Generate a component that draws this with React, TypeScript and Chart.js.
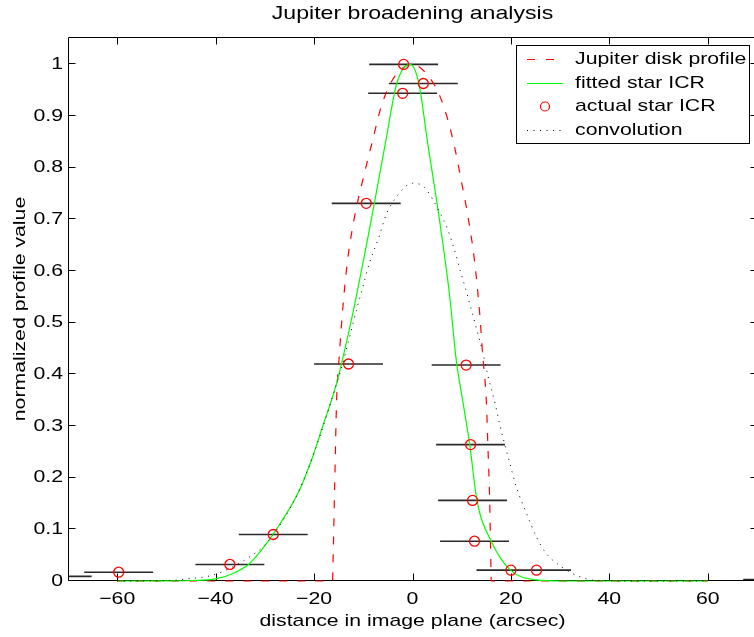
import React, { useEffect, useRef } from 'react';
import { Chart, registerables } from 'chart.js';

Chart.register(...registerables);

const FONT = '"Liberation Sans", Arial, Helvetica, sans-serif';
const SX = 1.25; // horizontal stretch of the text glyphs

const titleText = 'Jupiter broadening analysis';
const xTitle = 'distance in image plane (arcsec)';
const yTitle = 'normalized profile value';

const xTicks = [-60, -40, -20, 0, 20, 40, 60];
const xTickLabels = ['\u221260', '\u221240', '\u221220', '0', '20', '40', '60'];
const yTicks = [0, 0.1, 0.2, 0.3, 0.4, 0.5, 0.6, 0.7, 0.8, 0.9, 1];
const yTickLabels = ['0', '0.1', '0.2', '0.3', '0.4', '0.5', '0.6', '0.7', '0.8', '0.9', '1'];

const seriesNames = ['Jupiter disk profile', 'fitted star ICR', 'actual star ICR', 'convolution'];

// Jupiter disk profile (red dashed)
const diskX = [-60, -16.25, -16.2, -15.8, -15.4, -14.9, -14.2, -13.2, -11.8, -9.8, -8.1, -6.4, -4.3, -2.0, 0.0, 3.1, 5.5, 7.2, 8.55, 9.9, 11.3, 12.6, 13.6, 14.3, 15.0, 15.3, 15.7, 15.95, 16.0, 60];
const diskY = [0, 0, 0.014, 0.19, 0.356, 0.433, 0.524, 0.62, 0.704, 0.788, 0.853, 0.917, 0.966, 0.993, 1.0, 0.979, 0.94, 0.892, 0.84, 0.775, 0.704, 0.62, 0.524, 0.433, 0.349, 0.266, 0.149, 0.02, 0, 0];

// fitted star ICR (green)
const fitX = [-60, -50, -45, -40, -36.6, -33.2, -30.5, -27.8, -23.0, -20.3, -18.3, -15.5, -12.2, -8.4, -5.4, -3.2, -0.5, 1.3, 3.0, 5.5, 7.5, 8.9, 10.2, 11.6, 13.1, 16.0, 19.8, 25.2, 30, 60];
const fitY = [0, 0.0002, 0.001, 0.004, 0.014, 0.033, 0.062, 0.098, 0.175, 0.24, 0.298, 0.38, 0.515, 0.698, 0.853, 0.963, 1.0, 0.963, 0.853, 0.698, 0.556, 0.427, 0.349, 0.266, 0.156, 0.077, 0.022, 0.002, 0, 0];

// actual star ICR (red circles, horizontal error bars)
const starX = [-72.2, -59.7, -37.1, -28.3, -13.0, -9.4, -1.8, 2.2, -2.0, 10.9, 11.8, 12.2, 12.6, 20.0, 25.2, 74.2];
const starY = [0.009, 0.017, 0.032, 0.09, 0.42, 0.731, 1.0, 0.963, 0.944, 0.418, 0.264, 0.156, 0.077, 0.021, 0.021, 0.003];
const starErr = [7, 7, 7, 7, 7, 7, 7, 7, 7, 7, 7, 7, 7, 7, 7, 7];

// convolution (black dotted)
const convX = [-60, -50, -46, -40.7, -36.6, -33.2, -29.8, -24.4, -21.6, -18.9, -15.9, -14.2, -12.8, -11.4, -10.1, -8.8, -6.7, -5.4, -3.3, 0, 2.4, 5.5, 7.2, 8.55, 9.7, 10.9, 12.0, 13.1, 14.2, 15.3, 16.8, 17.7, 18.7, 19.8, 21.1, 23.2, 25.2, 27.2, 29.9, 33.3, 37.4, 45, 60];
const convY = [0, 0.0005, 0.004, 0.011, 0.027, 0.046, 0.072, 0.149, 0.208, 0.278, 0.367, 0.42, 0.472, 0.524, 0.569, 0.614, 0.669, 0.708, 0.743, 0.77, 0.762, 0.714, 0.679, 0.64, 0.601, 0.562, 0.524, 0.485, 0.446, 0.398, 0.343, 0.304, 0.266, 0.227, 0.182, 0.13, 0.085, 0.053, 0.03, 0.011, 0.001, 0, 0];

const pts = (xs: number[], ys: number[]) => xs.map((x, i) => ({ x, y: ys[i] }));

function drawText(ctx: CanvasRenderingContext2D, text: string, x: number, y: number, align: CanvasTextAlign, size: number, rotate = 0) {
  ctx.save();
  ctx.translate(x, y);
  if (rotate) ctx.rotate(rotate);
  ctx.scale(SX, 1);
  ctx.font = `${size}px ${FONT}`;
  ctx.textAlign = align;
  ctx.textBaseline = 'middle';
  ctx.fillStyle = '#000';
  ctx.fillText(text, 0, 0);
  ctx.restore();
}

export default function App() {
  const ref = useRef<HTMLCanvasElement>(null);

  useEffect(() => {
    document.documentElement.style.overflow = 'hidden';
    document.body.style.overflow = 'hidden';
    const canvas = ref.current!;

    const frame = {
      id: 'matlabFrame',
      beforeDatasetsDraw(chart: any) {
        const ctx = chart.ctx;
        const a = chart.chartArea;
        const xs = chart.scales.x;
        const ys = chart.scales.y;
        ctx.save();
        // error bars
        ctx.beginPath();
        ctx.rect(a.left, 0, a.right - a.left, a.bottom + 2);
        ctx.clip();
        ctx.strokeStyle = '#2a2a2a';
        ctx.lineWidth = 1.6;
        ctx.beginPath();
        for (let i = 0; i < starX.length; i++) {
          const py = ys.getPixelForValue(starY[i]);
          ctx.moveTo(xs.getPixelForValue(starX[i] - starErr[i]), py);
          ctx.lineTo(xs.getPixelForValue(starX[i] + starErr[i]), py);
        }
        ctx.stroke();
        ctx.restore();

        // axes box + inward ticks
        ctx.save();
        ctx.strokeStyle = '#000';
        ctx.lineWidth = 1;
        const L = Math.round(a.left) + 0.5;
        const R = Math.round(a.right) + 0.5;
        const T = Math.round(a.top) + 0.5;
        const B = Math.round(a.bottom) - 0.5;
        ctx.beginPath();
        ctx.rect(L, T, R - L, B - T);
        const tl = 7;
        xTicks.forEach((v) => {
          const px = Math.round(xs.getPixelForValue(v)) + 0.5;
          ctx.moveTo(px, B);
          ctx.lineTo(px, B - tl);
          ctx.moveTo(px, T);
          ctx.lineTo(px, T + tl);
        });
        yTicks.forEach((v) => {
          const py = Math.round(ys.getPixelForValue(v)) - 0.5;
          ctx.moveTo(L, py);
          ctx.lineTo(L + tl, py);
          ctx.moveTo(R, py);
          ctx.lineTo(R - tl, py);
        });
        ctx.stroke();
        ctx.restore();
      },
      afterDatasetsDraw(chart: any) {
        const ctx = chart.ctx;
        const a = chart.chartArea;
        const xs = chart.scales.x;
        const ys = chart.scales.y;
        const cx = (a.left + a.right) / 2;

        // tick labels
        xTicks.forEach((v, i) => drawText(ctx, xTickLabels[i], xs.getPixelForValue(v), a.bottom + 18, 'center', 17));
        yTicks.forEach((v, i) => drawText(ctx, yTickLabels[i], a.left - 5, ys.getPixelForValue(v), 'right', 17));

        // titles
        drawText(ctx, titleText, cx, 14, 'center', 18.5);
        drawText(ctx, xTitle, cx, 621, 'center', 17);
        drawText(ctx, yTitle, 20, (a.top + a.bottom) / 2, 'center', 17, -Math.PI / 2);

        // legend
        ctx.save();
        const bx = 516, by = 45, bw = 233, bh = 98;
        ctx.fillStyle = '#fff';
        ctx.fillRect(bx, by, bw, bh);
        ctx.strokeStyle = '#000';
        ctx.lineWidth = 1;
        ctx.strokeRect(bx + 0.5, by + 0.5, bw, bh);
        const x0 = 527, x1 = 563, tx = 575;
        seriesNames.forEach((name, i) => {
          const y = Math.round(59 + i * 23.6) + 0.5;
          ctx.save();
          ctx.lineWidth = 1.2;
          ctx.beginPath();
          if (i === 0) {
            ctx.strokeStyle = '#ff0000';
            ctx.setLineDash([8, 11]);
            ctx.moveTo(x0, y); ctx.lineTo(x1, y);
          } else if (i === 1) {
            ctx.strokeStyle = '#00ff00';
            ctx.moveTo(x0, y); ctx.lineTo(x1, y);
          } else if (i === 2) {
            ctx.strokeStyle = '#ff0000';
            ctx.arc((x0 + x1) / 2, y, 4.5, 0, Math.PI * 2);
          } else {
            ctx.strokeStyle = '#000';
            ctx.setLineDash([1, 5.5]);
            ctx.moveTo(x0, y); ctx.lineTo(x1, y);
          }
          ctx.stroke();
          ctx.restore();
          drawText(ctx, name, tx, y, 'left', 17);
        });
        ctx.restore();
      },
    };

    const chart = new Chart(canvas, {
      type: 'scatter',
      data: {
        datasets: [
          {
            label: seriesNames[0],
            data: pts(diskX, diskY),
            showLine: true,
            borderColor: '#ff0000',
            borderWidth: 1.2,
            borderDash: [8, 10],
            pointRadius: 0,
            cubicInterpolationMode: 'monotone',
            order: 4,
            clip: 3,
          },
          {
            label: seriesNames[1],
            data: pts(fitX, fitY),
            showLine: true,
            borderColor: '#00ff00',
            borderWidth: 1.2,
            pointRadius: 0,
            cubicInterpolationMode: 'monotone',
            order: 3,
            clip: 3,
          },
          {
            label: seriesNames[2],
            data: pts(starX, starY),
            showLine: false,
            pointRadius: 5,
            pointBorderWidth: 1.3,
            pointBorderColor: '#ff0000',
            pointBackgroundColor: 'rgba(0,0,0,0)',
            order: 2,
            clip: 3,
          },
          {
            label: seriesNames[3],
            data: pts(convX, convY),
            showLine: true,
            borderColor: '#000000',
            borderWidth: 1,
            borderDash: [1, 5.5],
            pointRadius: 0,
            cubicInterpolationMode: 'monotone',
            order: 1,
            clip: 3,
          },
        ] as any,
      },
      options: {
        animation: false,
        responsive: false,
        events: [],
        layout: { padding: { left: 0, top: 37, right: 13, bottom: 0 } },
        plugins: {
          legend: { display: false },
          title: { display: false },
          tooltip: { enabled: false },
        },
        scales: {
          x: {
            type: 'linear',
            min: -70,
            max: 70,
            afterFit: (s: any) => { s.height = 56; },
            afterBuildTicks: (s: any) => { s.ticks = xTicks.map((v) => ({ value: v })); },
            grid: { display: false, drawTicks: false },
            border: { display: false },
            ticks: { display: false },
          },
          y: {
            type: 'linear',
            min: 0,
            max: 1.053,
            afterFit: (s: any) => { s.width = 68; },
            afterBuildTicks: (s: any) => { s.ticks = yTicks.map((v) => ({ value: v })); },
            grid: { display: false, drawTicks: false },
            border: { display: false },
            ticks: { display: false },
          },
        },
      } as any,
      plugins: [frame],
    });

    return () => chart.destroy();
  }, []);

  return (
    <canvas
      ref={ref}
      width={770}
      height={637}
      style={{ position: 'fixed', left: 0, top: 0, width: 770, height: 637 }}
    />
  );
}
